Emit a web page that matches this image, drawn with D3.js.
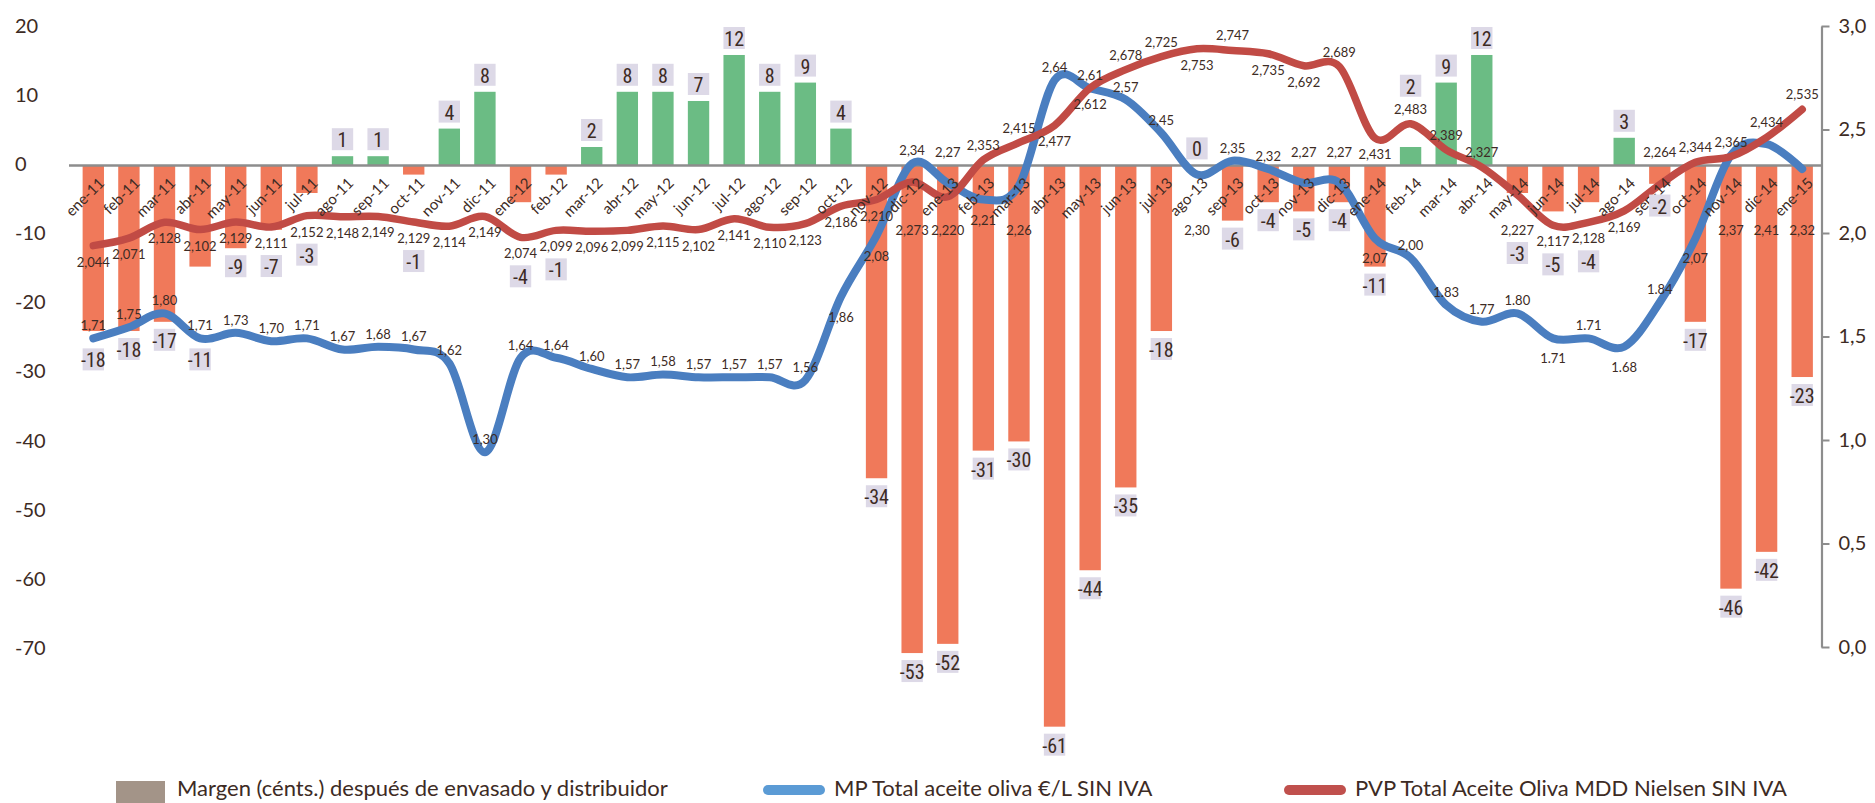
<!DOCTYPE html>
<html>
<head>
<meta charset="utf-8">
<script src="https://cdn.jsdelivr.net/npm/d3@7"></script>
<style>
  html, body { margin: 0; padding: 0; background: #ffffff; }
  svg { display: block; }
  text { font-family: Lato, "Open Sans", sans-serif; fill: #3d2b24; }
</style>
</head>
<body>
<svg id="chart" width="1875" height="803"></svg>
<script>
// Months on the category axis
const months = [
  'ene-11','feb-11','mar-11','abr-11','may-11','jun-11','jul-11','ago-11','sep-11','oct-11','nov-11','dic-11',
  'ene-12','feb-12','mar-12','abr-12','may-12','jun-12','jul-12','ago-12','sep-12','oct-12','nov-12','dic-12',
  'ene-13','feb-13','mar-13','abr-13','may-13','jun-13','jul-13','ago-13','sep-13','oct-13','nov-13','dic-13',
  'ene-14','feb-14','mar-14','abr-14','may-14','jun-14','jul-14','ago-14','sep-14','oct-14','nov-14','dic-14',
  'ene-15'
];

// Margen (cénts.) después de envasado y distribuidor
const margen = [
  -18, -18, -17, -11, -9, -7, -3, 1, 1, -1, 4, 8,
  -4, -1, 2, 8, 8, 7, 12, 8, 9, 4, -34, -53,
  -52, -31, -30, -61, -44, -35, -18, 0, -6, -4, -5, -4,
  -11, 2, 9, 12, -3, -5, -4, 3, -2, -17, -46, -42,
  -23
];

// MP Total aceite oliva €/L SIN IVA
const mp = [
  1.71, 1.75, 1.80, 1.71, 1.73, 1.70, 1.71, 1.67, 1.68, 1.67, 1.62, 1.30,
  1.64, 1.64, 1.60, 1.57, 1.58, 1.57, 1.57, 1.57, 1.56, 1.86, 2.08, 2.34,
  2.27, 2.21, 2.26, 2.64, 2.61, 2.57, 2.45, 2.30, 2.35, 2.32, 2.27, 2.27,
  2.07, 2.00, 1.83, 1.77, 1.80, 1.71, 1.71, 1.68, 1.84, 2.07, 2.37, 2.41,
  2.32
];

// PVP Total Aceite Oliva MDD Nielsen SIN IVA
const pvp = [
  2.044, 2.071, 2.128, 2.102, 2.129, 2.111, 2.152, 2.148, 2.149, 2.129, 2.114, 2.149,
  2.074, 2.099, 2.096, 2.099, 2.115, 2.102, 2.141, 2.110, 2.123, 2.186, 2.210, 2.273,
  2.220, 2.353, 2.415, 2.477, 2.612, 2.678, 2.725, 2.753, 2.747, 2.735, 2.692, 2.689,
  2.431, 2.483, 2.389, 2.327, 2.227, 2.117, 2.128, 2.169, 2.264, 2.344, 2.365, 2.434,
  2.535
];

// Side of the line each value label sits on: 'a' above, 'b' below
const mpLabelSide = [
  'a','a','a','a','a','a','a','a','a','a','a','a',
  'a','a','a','a','a','a','a','a','a','b','b','a',
  'a','b','b','a','a','a','a','b','a','a','a','a',
  'b','a','a','a','a','b','a','b','a','b','b','b',
  'b'
];
const pvpLabelSide = [
  'b','b','b','b','b','b','b','b','b','b','b','b',
  'b','b','b','b','b','b','b','b','b','b','b','b',
  'b','a','a','b','b','a','a','b','a','b','b','a',
  'b','a','a','a','b','b','b','b','a','a','a','a',
  'a'
];
// Months whose MP label is written with a decimal point
const mpDotMonths = ['mar-14','abr-14','may-14','jun-14','jul-14','ago-14','sep-14'];

// Axis tick values
const leftTicks = [20, 10, 0, -10, -20, -30, -40, -50, -60, -70];
const rightTicks = [0, 0.5, 1.0, 1.5, 2.0, 2.5, 3.0];

// Legend entries
const legendItems = [
  { name: 'Margen (cénts.) después de envasado y distribuidor', kind: 'box', color: '#a39488' },
  { name: 'MP Total aceite oliva €/L SIN IVA', kind: 'line', color: '#5b9bd5' },
  { name: 'PVP Total Aceite Oliva MDD Nielsen SIN IVA', kind: 'line', color: '#c0504d' }
];

const COLORS = {
  neg: '#f0795a', pos: '#6bbc84', mp: '#4a7ec0', pvp: '#c14b45',
  axis: '#8d8d8d', tag: '#ddd9e7', text: '#3d2b24', valueText: '#4a3a34'
};

const svg = d3.select('#chart');
const TOP = 26, BOTTOM = 648;

// Scales
const x = d3.scaleBand().domain(months).range([75.5, 1820]).paddingInner(0.4).paddingOuter(0.2);
const cx = m => x(m) + x.bandwidth() / 2;
const yLeft = d3.scaleLinear().domain([-70, 20]).range([BOTTOM, TOP]);
const yBar = d3.scaleLinear().domain([-52.45, 15.15]).range([BOTTOM, TOP]);
const yLine = d3.scaleLinear().domain([0.595, 2.835]).range([BOTTOM, TOP]);
const yRight = d3.scaleLinear().domain([0, 3]).range([647, TOP]);

// Plain hyphen for negative numbers
const intText = v => String(Math.round(v));

// Left axis: labels only, left aligned
const gLeft = svg.append('g').attr('transform', 'translate(15,0)')
  .call(d3.axisLeft(yLeft).tickValues(leftTicks).tickSize(0).tickPadding(0).tickFormat(intText));
gLeft.select('.domain').remove();
gLeft.selectAll('text')
  .attr('text-anchor', 'start').attr('x', 0)
  .style('font-family', 'Lato, sans-serif').style('font-size', '20px').attr('fill', COLORS.text);

// Right axis
const gRight = svg.append('g').attr('transform', 'translate(1821.5,0)')
  .call(d3.axisRight(yRight).tickValues(rightTicks).tickSize(8).tickSizeOuter(0).tickPadding(9)
    .tickFormat(d => d.toFixed(1).replace('.', ',')));
gRight.select('.domain').attr('stroke', COLORS.axis).attr('stroke-width', 2.2);
gRight.selectAll('.tick line').attr('stroke', COLORS.axis).attr('stroke-width', 2);
gRight.selectAll('text')
  .style('font-family', 'Lato, sans-serif').style('font-size', '20px').attr('fill', COLORS.text);

// Bars
const y0 = yBar(0);
svg.append('g').selectAll('rect').data(months).join('rect')
  .attr('x', m => x(m))
  .attr('width', x.bandwidth())
  .attr('y', (m, i) => Math.min(yBar(margen[i]), y0))
  .attr('height', (m, i) => Math.abs(yBar(margen[i]) - y0))
  .attr('fill', (m, i) => margen[i] < 0 ? COLORS.neg : COLORS.pos);

// Zero line
svg.append('line')
  .attr('x1', 69).attr('x2', 1821.5).attr('y1', y0).attr('y2', y0)
  .attr('stroke', COLORS.axis).attr('stroke-width', 2.5);

// Lines
const lineGen = series => d3.line()
  .x((d, i) => cx(months[i]))
  .y(d => yLine(d))
  .curve(d3.curveCardinal.tension(0))(series);

svg.append('path').attr('d', lineGen(mp))
  .attr('fill', 'none').attr('stroke', COLORS.mp).attr('stroke-width', 8)
  .attr('stroke-linecap', 'round').attr('stroke-linejoin', 'round');
svg.append('path').attr('d', lineGen(pvp))
  .attr('fill', 'none').attr('stroke', COLORS.pvp).attr('stroke-width', 7.5)
  .attr('stroke-linecap', 'round').attr('stroke-linejoin', 'round');

// Category labels, rotated
svg.append('g').selectAll('text').data(months).join('text')
  .attr('transform', m => `translate(${cx(m) + 12},184) rotate(-45)`)
  .attr('text-anchor', 'end')
  .style('font-size', '15px')
  .attr('fill', COLORS.text)
  .text(m => m);

// Value labels on the lines; kept clear of the month-label band under the zero line
const BAND_TOP = 160, BAND_BOTTOM = 214;
function labelY(lineY, side, upGap, downGap) {
  if (side === 'a') {
    const yy = lineY - upGap;
    return (yy > BAND_TOP && yy < BAND_BOTTOM) ? 152 : yy;
  }
  const yy = lineY + downGap;
  return (yy > BAND_TOP && yy < BAND_BOTTOM) ? 230 : yy;
}
const mpLabelY = mp.map((v, i) => labelY(yLine(v), mpLabelSide[i], 13, 20));
const pvpLabelY = pvp.map((v, i) => labelY(yLine(v), pvpLabelSide[i], 15, 16));

const fmtMp = (v, m) => {
  const s = v.toFixed(2);
  return mpDotMonths.includes(m) ? s : s.replace('.', ',');
};
const fmtPvp = v => v.toFixed(3).replace('.', ',');

svg.append('g').selectAll('text').data(months).join('text')
  .attr('x', m => cx(m)).attr('y', (m, i) => mpLabelY[i])
  .attr('text-anchor', 'middle').attr('dominant-baseline', 'central')
  .style('font-size', '13px').attr('fill', COLORS.valueText)
  .text((m, i) => fmtMp(mp[i], m));

svg.append('g').selectAll('text').data(months).join('text')
  .attr('x', m => cx(m)).attr('y', (m, i) => pvpLabelY[i])
  .attr('text-anchor', 'middle').attr('dominant-baseline', 'central')
  .style('font-size', '13px').attr('fill', COLORS.valueText)
  .text((m, i) => fmtPvp(pvp[i]));

// Margin tags: small shaded boxes beyond each bar end, moved off the lines when they collide
const TAG_H = 22;
const spans = (lineVals, labYs, i) => {
  const ly = yLine(lineVals[i]);
  return [Math.min(ly - 5, labYs[i] - 7), Math.max(ly + 5, labYs[i] + 7)];
};
const tagTop = months.map((m, i) => {
  const v = margen[i];
  const end = yBar(v);
  const ivs = [spans(mp, mpLabelY, i), spans(pvp, pvpLabelY, i)].sort((a, b) => a[0] - b[0]);
  if (v < 0) {
    let top = end + 7;
    for (const [a, b] of ivs) {
      const overlaps = a < top + TAG_H + 3 && b > top - 3;
      const justBelow = a > end && a - end < 60;
      if (overlaps || justBelow) top = Math.max(top, b + 5);
    }
    return top;
  }
  let bottom = end - 6;
  for (const [a, b] of ivs.slice().reverse()) {
    if (a < bottom + 3 && b > bottom - TAG_H - 3) bottom = Math.min(bottom, a - 5);
  }
  return bottom - TAG_H;
});

const tags = svg.append('g').selectAll('g').data(months).join('g')
  .attr('transform', (m, i) => `translate(${x(m)},${tagTop[i]})`);
tags.append('rect')
  .attr('width', x.bandwidth()).attr('height', TAG_H)
  .attr('fill', COLORS.tag);
tags.append('text')
  .attr('x', x.bandwidth() / 2).attr('y', TAG_H / 2 + 1)
  .attr('text-anchor', 'middle').attr('dominant-baseline', 'central')
  .style('font-family', '"Liberation Sans Narrow", "Roboto Condensed", Lato, sans-serif')
  .style('font-size', '20px').attr('fill', COLORS.text)
  .text((m, i) => intText(margen[i]));

// Legend along the bottom edge
const legendX = [116, 765, 1286];
const lg = svg.append('g').selectAll('g').data(legendItems).join('g')
  .attr('transform', (d, i) => `translate(${legendX[i]},788)`);
lg.filter(d => d.kind === 'box').append('rect')
  .attr('x', 0).attr('y', -7).attr('width', 49).attr('height', 22).attr('fill', d => d.color);
lg.filter(d => d.kind === 'line').append('line')
  .attr('x1', 3).attr('x2', 55).attr('y1', 2).attr('y2', 2)
  .attr('stroke', d => d.color).attr('stroke-width', 10).attr('stroke-linecap', 'round');
lg.append('text')
  .attr('x', (d, i) => i === 0 ? 61 : 69).attr('y', 8)
  .style('font-size', '22px').attr('fill', COLORS.text)
  .text(d => d.name);
</script>
</body>
</html>
